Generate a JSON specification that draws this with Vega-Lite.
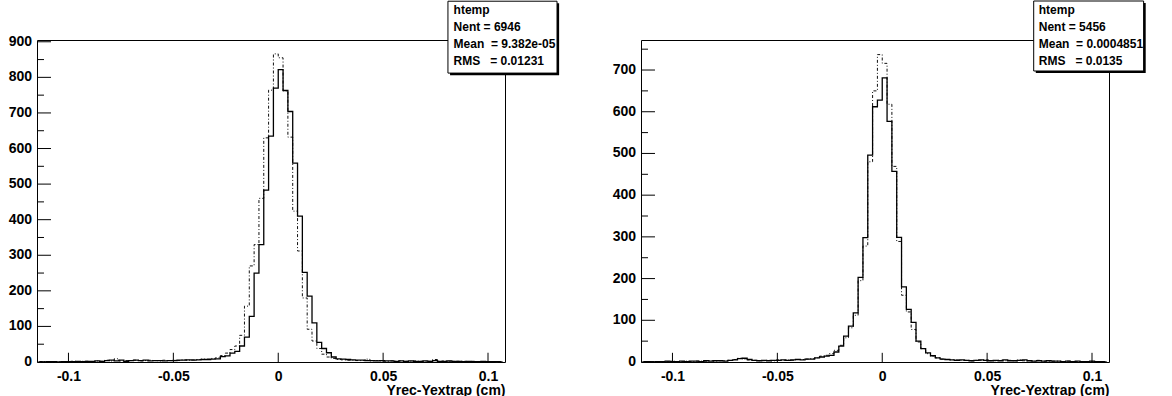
{
  "$schema": "https://vega.github.io/schema/vega-lite/v6.json",
  "background": "white",
  "padding": {"left": 8, "top": 0, "right": 0, "bottom": 0},
  "spacing": 136,
  "bounds": "flush",
  "config": {
    "view": {"stroke": "black", "strokeWidth": 1},
    "font": "Liberation Sans",
    "axis": {
      "domain": false, "grid": false, "ticks": false,
      "labelFont": "Liberation Sans", "labelFontWeight": "bold", "labelFontSize": 14, "labelColor": "black",
      "titleFont": "Liberation Sans", "titleFontWeight": "bold", "titleFontSize": 14, "titleColor": "black",
      "labelOverlap": false, "labelFlush": false, "labelBound": false
    }
  },
  "datasets": {
    "h": [
      {"x":-0.11385,"a":1,"b":0,"c":1,"d":0},
      {"x":-0.11155,"a":0,"b":1,"c":1,"d":1},
      {"x":-0.10925,"a":1,"b":1,"c":0,"d":1},
      {"x":-0.10695,"a":1,"b":0,"c":1,"d":1},
      {"x":-0.10465,"a":0,"b":1,"c":1,"d":0},
      {"x":-0.10235,"a":1,"b":1,"c":2,"d":1},
      {"x":-0.10005,"a":1,"b":1,"c":1,"d":2},
      {"x":-0.09775,"a":1,"b":2,"c":1,"d":1},
      {"x":-0.09545,"a":2,"b":1,"c":2,"d":1},
      {"x":-0.09315,"a":1,"b":2,"c":1,"d":2},
      {"x":-0.09085,"a":2,"b":2,"c":2,"d":1},
      {"x":-0.08855,"a":2,"b":1,"c":2,"d":2},
      {"x":-0.08625,"a":3,"b":3,"c":1,"d":2},
      {"x":-0.08395,"a":2,"b":2,"c":3,"d":2},
      {"x":-0.08165,"a":4,"b":5,"c":2,"d":3},
      {"x":-0.07935,"a":5,"b":3,"c":3,"d":2},
      {"x":-0.07705,"a":3,"b":9,"c":3,"d":3},
      {"x":-0.07475,"a":5,"b":3,"c":2,"d":3},
      {"x":-0.07245,"a":2,"b":4,"c":4,"d":4},
      {"x":-0.07015,"a":4,"b":4,"c":5,"d":6},
      {"x":-0.06785,"a":5,"b":5,"c":8,"d":9},
      {"x":-0.06555,"a":4,"b":3,"c":9,"d":7},
      {"x":-0.06325,"a":5,"b":4,"c":6,"d":5},
      {"x":-0.06095,"a":3,"b":5,"c":4,"d":4},
      {"x":-0.05865,"a":4,"b":4,"c":3,"d":3},
      {"x":-0.05635,"a":4,"b":3,"c":4,"d":3},
      {"x":-0.05405,"a":3,"b":5,"c":3,"d":4},
      {"x":-0.05175,"a":4,"b":4,"c":4,"d":3},
      {"x":-0.04945,"a":4,"b":5,"c":4,"d":5},
      {"x":-0.04715,"a":5,"b":4,"c":5,"d":4},
      {"x":-0.04485,"a":5,"b":6,"c":4,"d":5},
      {"x":-0.04255,"a":6,"b":5,"c":5,"d":4},
      {"x":-0.04025,"a":5,"b":6,"c":6,"d":6},
      {"x":-0.03795,"a":6,"b":7,"c":5,"d":6},
      {"x":-0.03565,"a":7,"b":8,"c":7,"d":7},
      {"x":-0.03335,"a":7,"b":8,"c":7,"d":8},
      {"x":-0.03105,"a":8,"b":10,"c":10,"d":10},
      {"x":-0.02875,"a":9,"b":12,"c":12,"d":14},
      {"x":-0.02645,"a":15,"b":18,"c":14,"d":16},
      {"x":-0.02415,"a":17,"b":25,"c":16,"d":20},
      {"x":-0.02185,"a":25,"b":35,"c":24,"d":28},
      {"x":-0.01955,"a":30,"b":45,"c":38,"d":40},
      {"x":-0.01725,"a":45,"b":75,"c":62,"d":58},
      {"x":-0.01495,"a":70,"b":157,"c":86,"d":82},
      {"x":-0.01265,"a":128,"b":270,"c":118,"d":112},
      {"x":-0.01035,"a":250,"b":330,"c":203,"d":195},
      {"x":-0.00805,"a":330,"b":460,"c":298,"d":278},
      {"x":-0.00575,"a":483,"b":630,"c":496,"d":480},
      {"x":-0.00345,"a":635,"b":764,"c":612,"d":650},
      {"x":-0.00115,"a":770,"b":866,"c":628,"d":737},
      {"x":0.00115,"a":822,"b":855,"c":681,"d":716},
      {"x":0.00345,"a":763,"b":762,"c":577,"d":618},
      {"x":0.00575,"a":704,"b":632,"c":457,"d":469},
      {"x":0.00805,"a":559,"b":424,"c":299,"d":289},
      {"x":0.01035,"a":410,"b":312,"c":180,"d":160},
      {"x":0.01265,"a":252,"b":180,"c":126,"d":120},
      {"x":0.01495,"a":185,"b":92,"c":95,"d":78},
      {"x":0.01725,"a":110,"b":59,"c":50,"d":48},
      {"x":0.01955,"a":55,"b":38,"c":32,"d":32},
      {"x":0.02185,"a":38,"b":22,"c":22,"d":20},
      {"x":0.02415,"a":26,"b":14,"c":15,"d":14},
      {"x":0.02645,"a":14,"b":10,"c":10,"d":10},
      {"x":0.02875,"a":9,"b":7,"c":7,"d":7},
      {"x":0.03105,"a":8,"b":6,"c":6,"d":6},
      {"x":0.03335,"a":7,"b":5,"c":5,"d":5},
      {"x":0.03565,"a":6,"b":5,"c":4,"d":5},
      {"x":0.03795,"a":5,"b":4,"c":5,"d":4},
      {"x":0.04025,"a":5,"b":4,"c":4,"d":4},
      {"x":0.04255,"a":4,"b":8,"c":3,"d":3},
      {"x":0.04485,"a":4,"b":3,"c":4,"d":4},
      {"x":0.04715,"a":3,"b":4,"c":5,"d":4},
      {"x":0.04945,"a":4,"b":3,"c":4,"d":5},
      {"x":0.05175,"a":3,"b":2,"c":3,"d":3},
      {"x":0.05405,"a":3,"b":3,"c":4,"d":3},
      {"x":0.05635,"a":2,"b":2,"c":3,"d":4},
      {"x":0.05865,"a":3,"b":3,"c":5,"d":3},
      {"x":0.06095,"a":2,"b":2,"c":3,"d":4},
      {"x":0.06325,"a":3,"b":2,"c":3,"d":3},
      {"x":0.06555,"a":2,"b":3,"c":4,"d":5},
      {"x":0.06785,"a":2,"b":2,"c":5,"d":3},
      {"x":0.07015,"a":3,"b":2,"c":3,"d":3},
      {"x":0.07245,"a":2,"b":2,"c":2,"d":2},
      {"x":0.07475,"a":4,"b":7,"c":3,"d":4},
      {"x":0.07705,"a":2,"b":2,"c":2,"d":2},
      {"x":0.07935,"a":2,"b":3,"c":3,"d":2},
      {"x":0.08165,"a":3,"b":2,"c":2,"d":2},
      {"x":0.08395,"a":2,"b":2,"c":2,"d":2},
      {"x":0.08625,"a":2,"b":2,"c":1,"d":1},
      {"x":0.08855,"a":1,"b":2,"c":2,"d":2},
      {"x":0.09085,"a":2,"b":1,"c":1,"d":1},
      {"x":0.09315,"a":1,"b":2,"c":2,"d":1},
      {"x":0.09545,"a":1,"b":1,"c":1,"d":1},
      {"x":0.09775,"a":2,"b":1,"c":1,"d":1},
      {"x":0.10005,"a":1,"b":1,"c":2,"d":1},
      {"x":0.10235,"a":1,"b":1,"c":1,"d":1},
      {"x":0.10465,"a":1,"b":0,"c":1,"d":1},
      {"x":0.10695,"a":0,"b":1,"c":0,"d":0}
    ],
    "tx": [{"v": -0.1}, {"v": -0.05}, {"v": 0}, {"v": 0.05}, {"v": 0.1}],
    "ty": [{"v":0},{"v":50},{"v":100},{"v":150},{"v":200},{"v":250},{"v":300},{"v":350},{"v":400},{"v":450},{"v":500},{"v":550},{"v":600},{"v":650},{"v":700},{"v":750},{"v":800},{"v":850},{"v":900}],
    "statsL": [{"t": ["htemp", "Nent = 6946", "Mean\u00a0\u00a0= 9.382e-05", "RMS\u00a0\u00a0\u00a0= 0.01231"]}],
    "statsR": [{"t": ["htemp", "Nent = 5456", "Mean\u00a0\u00a0= 0.0004851", "RMS\u00a0\u00a0\u00a0= 0.0135"]}]
  },
  "hconcat": [
    {
      "width": 468, "height": 322,
      "layer": [
        {
          "data": {"name": "h"},
          "mark": {"type": "line", "interpolate": "step", "color": "#111", "strokeWidth": 1, "strokeDash": [3, 2, 1, 2]},
          "encoding": {
            "x": {"field": "x", "type": "quantitative",
                  "scale": {"domain": [-0.115, 0.1081], "nice": false, "zero": false},
                  "axis": {"values": [-0.1, -0.05, 0, 0.05, 0.1], "labelExpr": "'' + datum.value",
                           "labelPadding": 7, "labelOverlap": false, "title": "Yrec-Yextrap (cm)",
                           "titleAnchor": "end", "titlePadding": 0}},
            "y": {"field": "b", "type": "quantitative",
                  "scale": {"domain": [0, 905], "nice": false},
                  "axis": {"labels": false, "title": null}}
          }
        },
        {
          "data": {"name": "h"},
          "mark": {"type": "line", "interpolate": "step", "color": "black", "strokeWidth": 1.3},
          "encoding": {
            "x": {"field": "x", "type": "quantitative"},
            "y": {"field": "a", "type": "quantitative"}
          }
        },
        {
          "data": {"name": "ty"},
          "transform": [{"filter": "datum.v % 100 === 0"}],
          "mark": {"type": "rule", "color": "black", "strokeWidth": 1},
          "encoding": {"y": {"field": "v", "type": "quantitative"}, "x": {"datum": -0.115}, "x2": {"datum": -0.10833}}
        },
        {
          "data": {"name": "ty"},
          "transform": [{"filter": "datum.v % 100 === 0"}],
          "mark": {"type": "text", "align": "right", "baseline": "middle", "dx": -5, "fontWeight": "bold", "fontSize": 14, "font": "Liberation Sans", "color": "black"},
          "encoding": {"y": {"field": "v", "type": "quantitative"}, "x": {"datum": -0.115}, "text": {"field": "v", "type": "quantitative", "format": "d"}}
        },
        {
          "data": {"name": "ty"},
          "transform": [{"filter": "datum.v % 100 !== 0"}],
          "mark": {"type": "rule", "color": "black", "strokeWidth": 1},
          "encoding": {"y": {"field": "v", "type": "quantitative"}, "x": {"datum": -0.115}, "x2": {"datum": -0.11167}}
        },
        {
          "data": {"name": "tx"},
          "mark": {"type": "rule", "color": "black", "strokeWidth": 1},
          "encoding": {"x": {"field": "v", "type": "quantitative"}, "y": {"datum": 0}, "y2": {"datum": 26}}
        },
        {
          "data": {"name": "statsL"},
          "mark": {"type": "rect", "fill": "black"},
          "encoding": {"x": {"datum": 0.0819}, "x2": {"datum": 0.1339}, "y": {"datum": 1008}, "y2": {"datum": 806}}
        },
        {
          "data": {"name": "statsL"},
          "mark": {"type": "rect", "fill": "white", "stroke": "black", "strokeWidth": 1},
          "encoding": {"x": {"datum": 0.0809}, "x2": {"datum": 0.1329}, "y": {"datum": 1014}, "y2": {"datum": 812}}
        },
        {
          "data": {"name": "statsL"},
          "mark": {"type": "text", "align": "left", "baseline": "top", "fontWeight": "bold", "fontSize": 12, "lineHeight": 17, "font": "Liberation Sans", "color": "black"},
          "encoding": {"x": {"datum": 0.0836}, "y": {"datum": 1003}, "text": {"field": "t"}}
        }
      ]
    },
    {
      "width": 468, "height": 322,
      "layer": [
        {
          "data": {"name": "h"},
          "mark": {"type": "line", "interpolate": "step", "color": "#111", "strokeWidth": 1, "strokeDash": [3, 2, 1, 2]},
          "encoding": {
            "x": {"field": "x", "type": "quantitative",
                  "scale": {"domain": [-0.115, 0.1081], "nice": false, "zero": false},
                  "axis": {"values": [-0.1, -0.05, 0, 0.05, 0.1], "labelExpr": "'' + datum.value",
                           "labelPadding": 7, "labelOverlap": false, "title": "Yrec-Yextrap (cm)",
                           "titleAnchor": "end", "titlePadding": 0}},
            "y": {"field": "d", "type": "quantitative",
                  "scale": {"domain": [0, 772], "nice": false},
                  "axis": {"labels": false, "title": null}}
          }
        },
        {
          "data": {"name": "h"},
          "mark": {"type": "line", "interpolate": "step", "color": "black", "strokeWidth": 1.3},
          "encoding": {
            "x": {"field": "x", "type": "quantitative"},
            "y": {"field": "c", "type": "quantitative"}
          }
        },
        {
          "data": {"name": "ty"},
          "transform": [{"filter": "datum.v % 100 === 0 && datum.v <= 700"}],
          "mark": {"type": "rule", "color": "black", "strokeWidth": 1},
          "encoding": {"y": {"field": "v", "type": "quantitative"}, "x": {"datum": -0.115}, "x2": {"datum": -0.10833}}
        },
        {
          "data": {"name": "ty"},
          "transform": [{"filter": "datum.v % 100 === 0 && datum.v <= 700"}],
          "mark": {"type": "text", "align": "right", "baseline": "middle", "dx": -5, "fontWeight": "bold", "fontSize": 14, "font": "Liberation Sans", "color": "black"},
          "encoding": {"y": {"field": "v", "type": "quantitative"}, "x": {"datum": -0.115}, "text": {"field": "v", "type": "quantitative", "format": "d"}}
        },
        {
          "data": {"name": "ty"},
          "transform": [{"filter": "datum.v % 100 !== 0 && datum.v <= 750"}],
          "mark": {"type": "rule", "color": "black", "strokeWidth": 1},
          "encoding": {"y": {"field": "v", "type": "quantitative"}, "x": {"datum": -0.115}, "x2": {"datum": -0.11167}}
        },
        {
          "data": {"name": "tx"},
          "mark": {"type": "rule", "color": "black", "strokeWidth": 1},
          "encoding": {"x": {"field": "v", "type": "quantitative"}, "y": {"datum": 0}, "y2": {"datum": 22}}
        },
        {
          "data": {"name": "statsR"},
          "mark": {"type": "rect", "fill": "black"},
          "encoding": {"x": {"datum": 0.0732}, "x2": {"datum": 0.1256}, "y": {"datum": 860.7}, "y2": {"datum": 692.9}}
        },
        {
          "data": {"name": "statsR"},
          "mark": {"type": "rect", "fill": "white", "stroke": "black", "strokeWidth": 1},
          "encoding": {"x": {"datum": 0.0722}, "x2": {"datum": 0.1246}, "y": {"datum": 865.5}, "y2": {"datum": 697.7}}
        },
        {
          "data": {"name": "statsR"},
          "mark": {"type": "text", "align": "left", "baseline": "top", "fontWeight": "bold", "fontSize": 12, "lineHeight": 17, "font": "Liberation Sans", "color": "black"},
          "encoding": {"x": {"datum": 0.0746}, "y": {"datum": 855.9}, "text": {"field": "t"}}
        }
      ]
    }
  ]
}
